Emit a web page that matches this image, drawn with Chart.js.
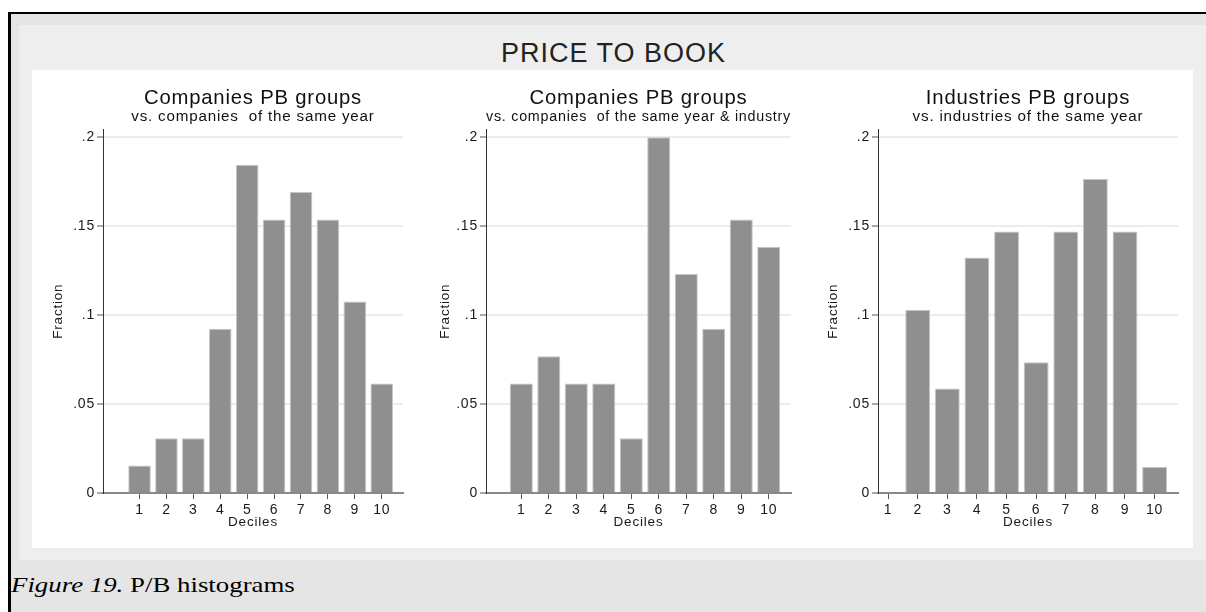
<!DOCTYPE html>
<html>
<head>
<meta charset="utf-8">
<script src="https://cdn.jsdelivr.net/npm/chart.js@4"></script>
<style>
    body { margin: 0; width: 1206px; height: 612px; background: #fff; position: relative; overflow: hidden; font-family: "Liberation Sans", Arial, sans-serif; }
    #frame { position: absolute; left: 8px; top: 12px; width: 1198px; height: 600px; border-top: 2px solid #000; border-left: 3px solid #000; background: #e5e5e5; }
    #outer { position: absolute; left: 19px; top: 25px; width: 1187px; height: 535px; background: #eeeeee; }
    #inner { position: absolute; left: 32px; top: 70px; width: 1161px; height: 478px; background: #fff; }
    #mainTitle { position: absolute; left: 501px; top: 40px; font-size: 27px; line-height: 27px; letter-spacing: 1px; color: #222; white-space: nowrap; }
    #caption { position: absolute; left: 11px; top: 574px; font-family: "Liberation Serif", "Times New Roman", serif; font-size: 22px; line-height: 22px; color: #000; white-space: nowrap; transform: scaleX(1.22); transform-origin: left top; }
    canvas { position: absolute; top: 80px; }
</style>
</head>
<body>
<div id="frame"></div>
<div id="outer"></div>
<div id="inner"></div>
<div id="mainTitle">PRICE TO BOOK</div>
<canvas id="pbYear" width="375" height="460" style="left:40px"></canvas>
<canvas id="pbYearIndustry" width="376" height="460" style="left:427px"></canvas>
<canvas id="pbIndustry" width="375" height="460" style="left:815px"></canvas>
<div id="caption"><i>Figure 19.</i> P/B histograms</div>

<script>
// Dữ liệu
const deciles = [1, 2, 3, 4, 5, 6, 7, 8, 9, 10];
const yTicks = [0, 0.05, 0.1, 0.15, 0.2];

const companiesYear = [0.0154, 0.0308, 0.0308, 0.0923, 0.1846, 0.1538, 0.1692, 0.1538, 0.1077, 0.0615];
const companiesYearIndustry = [0.0615, 0.0769, 0.0615, 0.0615, 0.0308, 0.2, 0.1231, 0.0923, 0.1538, 0.1385];
const industriesYear = [0, 0.1029, 0.0588, 0.1324, 0.1471, 0.0735, 0.1471, 0.1765, 0.1471, 0.0147];

Chart.defaults.font.family = '"Liberation Sans", Arial, sans-serif';
Chart.defaults.color = '#1a1a1a';

// Chữ hơi giãn như hình gốc
const spacingPlugin = {
    id: 'spacing',
    beforeLayout(chart) { chart.ctx.letterSpacing = '0.8px'; },
    beforeDraw(chart) { chart.ctx.letterSpacing = '0.8px'; }
};

// Vẽ một histogram theo decile
function histogram(canvasId, title, subtitle, values, xMin, xMax, yAxisWidth, padRight) {
    let points = [];
    for (let i = 0; i < deciles.length; i++)
        points.push({x: deciles[i], y: values[i]});

    const data = {
        datasets: [{
            data: points,
            backgroundColor: '#8f8f8f',
            borderColor: '#c6c6c6',
            borderWidth: 1,
            borderSkipped: 'bottom',
            categoryPercentage: 1,
            barPercentage: 0.84
        }]
    };

    const config = {
        type: 'bar',
        data: data,
        plugins: [spacingPlugin],
        options: {
            responsive: false,
            animation: false,
            layout: { padding: { left: 10, right: padRight, top: 0, bottom: 10 } },
            plugins: {
                legend: { display: false },
                tooltip: { enabled: false },
                title: {
                    display: true, text: title, fullSize: false, color: '#111',
                    font: { size: 20.3, weight: 'normal', lineHeight: 1 },
                    padding: { top: 8, bottom: 0 }
                },
                subtitle: {
                    display: true, text: subtitle, fullSize: false, color: '#111',
                    font: { size: 15.2, lineHeight: 1 },
                    padding: { top: 1, bottom: 4.8 }
                }
            },
            scales: {
                x: {
                    type: 'linear', min: xMin, max: xMax, offset: false,
                    afterBuildTicks: function(scale) { scale.ticks = deciles.map(v => ({value: v})); },
                    afterFit: function(scale) { scale.height = 37; },
                    grid: { offset: false, drawOnChartArea: false, tickLength: 6, tickColor: '#555', tickWidth: 1 },
                    border: { color: '#8a8a8a', width: 2 },
                    ticks: { padding: 3, font: { size: 14 }, maxRotation: 0, autoSkip: false },
                    title: { display: true, text: 'Deciles', font: { size: 13.5 }, padding: 0 }
                },
                y: {
                    min: 0, max: 0.2045,
                    afterBuildTicks: function(scale) { scale.ticks = yTicks.map(v => ({value: v})); },
                    afterFit: function(scale) { scale.width = yAxisWidth; },
                    grid: {
                        color: ctx => ctx.tick && ctx.tick.value === 0 ? 'rgba(0,0,0,0)' : '#ececec',
                        lineWidth: 2, tickLength: 6, tickColor: '#555', tickWidth: 1
                    },
                    border: { color: '#333', width: 1 },
                    ticks: {
                        padding: 2, font: { size: 14 },
                        callback: v => String(v).replace(/^0\./, '.')
                    },
                    title: { display: true, text: 'Fraction', font: { size: 13.5 }, padding: 0 }
                }
            }
        }
    };

    let context = document.getElementById(canvasId).getContext('2d');
    new Chart(context, config);
}

histogram('pbYear', 'Companies PB groups', 'vs. companies  of the same year', companiesYear, -0.357, 10.79, 53, 12);
histogram('pbYearIndustry', 'Companies PB groups', 'vs. companies  of the same year & industry', companiesYearIndustry, -0.284, 10.81, 49, 12);
histogram('pbIndustry', 'Industries PB groups', 'vs. industries of the same year', industriesYear, 0.659, 10.79, 53, 12);
</script>
</body>
</html>
